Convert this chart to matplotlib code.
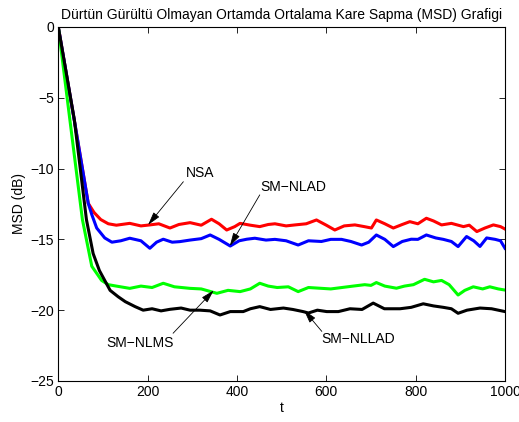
import numpy as np
import matplotlib
matplotlib.use('Agg')
import matplotlib.pyplot as plt

plt.rcParams['font.family'] = ['Liberation Sans', 'DejaVu Sans']

# values (t, MSD in dB)
t_nsa = [0, 37, 67, 80, 95, 112, 130, 160, 185, 205, 225, 250, 270, 295, 320, 343, 360, 377, 395, 407,
         430, 451, 470, 485, 510, 530, 555, 578, 600, 619, 640, 664, 685, 701, 712, 731, 750, 770, 787,
         805, 824, 840, 858, 880, 907, 920, 937, 955, 974, 990, 1000]
msd_nsa = [0, -6.8, -12.45, -13.1, -13.6, -13.9, -14.0, -13.87, -14.05, -13.98, -13.9, -14.2, -13.95,
           -13.82, -14.0, -13.58, -13.9, -14.34, -14.1, -13.87, -14.0, -14.1, -13.95, -13.9, -14.05,
           -13.98, -13.9, -13.63, -14.0, -14.34, -14.05, -13.98, -14.1, -14.2, -13.63, -13.9, -14.2,
           -13.95, -13.75, -13.9, -13.51, -13.7, -13.98, -13.87, -14.1, -14.0, -14.45, -14.2, -13.98,
           -14.1, -14.27]

t_nlad = [0, 37, 67, 75, 86, 104, 120, 140, 160, 185, 205, 220, 235, 255, 272, 295, 320, 340, 360, 385,
          405, 422, 440, 465, 485, 510, 537, 560, 589, 610, 634, 655, 679, 695, 712, 731, 750, 770, 790,
          805, 824, 845, 862, 880, 895, 914, 930, 944, 959, 978, 990, 1000]
msd_nlad = [0, -6.8, -12.45, -13.25, -14.2, -14.9, -15.2, -15.1, -14.92, -15.1, -15.63, -15.2, -14.99,
            -15.2, -15.16, -15.05, -14.95, -14.69, -15.0, -15.47, -15.1, -14.99, -14.92, -15.05, -15.0,
            -15.1, -15.4, -15.1, -15.15, -15.0, -15.0, -15.15, -15.4, -15.2, -14.69, -15.0, -15.51,
            -15.15, -14.99, -15.0, -14.69, -14.9, -15.0, -15.15, -15.51, -14.8, -15.1, -15.5, -14.9,
            -15.0, -15.1, -15.63]

t_nlms = [0, 26, 54, 75, 97, 112, 130, 160, 185, 210, 235, 260, 295, 320, 355, 380, 407, 430, 451, 470,
          490, 515, 537, 560, 585, 610, 635, 660, 686, 700, 712, 731, 757, 775, 795, 820, 840, 858, 875,
          895, 910, 929, 950, 966, 985, 1000]
msd_nlms = [0, -6.57, -13.6, -16.9, -17.9, -18.2, -18.3, -18.46, -18.3, -18.4, -18.1, -18.35, -18.46,
            -18.5, -18.81, -18.6, -18.69, -18.5, -18.1, -18.3, -18.4, -18.35, -18.69, -18.4, -18.45,
            -18.5, -18.4, -18.3, -18.2, -18.25, -18.05, -18.3, -18.45, -18.3, -18.2, -17.82, -18.0,
            -17.9, -18.2, -18.93, -18.6, -18.35, -18.5, -18.35, -18.5, -18.58]

t_nllad = [0, 36, 63, 78, 92, 104, 116, 134, 150, 172, 190, 210, 230, 250, 275, 295, 317, 340, 362, 385,
           414, 430, 451, 475, 504, 525, 548, 560, 580, 601, 627, 653, 680, 705, 730, 765, 790, 817, 840,
           862, 880, 895, 915, 944, 970, 1000]
msd_nllad = [0, -6.57, -13.6, -16.0, -17.2, -17.9, -18.6, -19.05, -19.4, -19.75, -20.0, -19.9, -20.05,
             -19.94, -19.85, -20.0, -20.0, -20.05, -20.34, -20.1, -20.1, -19.9, -19.75, -19.95, -19.85,
             -19.95, -20.1, -20.2, -20.0, -20.1, -20.1, -19.9, -19.95, -19.5, -19.9, -19.9, -19.8,
             -19.55, -19.7, -19.8, -19.9, -20.22, -20.0, -19.85, -19.9, -20.1]

# annotations: label, text position, arrow tail, arrow tip
labels = ['NSA', 'SM\u2212NLAD', 'SM\u2212NLMS', 'SM\u2212NLLAD']
text_pos = [(317, -10.3), (527, -11.3), (183, -22.34), (672, -22.06)]
tail_pos = [(280, -10.93), (451, -11.86), (257, -21.63), (590, -21.5)]
tip_pos = [(201, -13.98), (384, -15.47), (348, -18.6), (550, -20.0)]

fig = plt.figure(figsize=(5.19, 4.22), dpi=100)
ax = fig.add_axes([0.1123, 0.0972, 0.8607, 0.839])

lw = 2.2
ax.plot(t_nsa, msd_nsa, color=(1, 0, 0), lw=lw)
ax.plot(t_nlad, msd_nlad, color=(0, 0, 1), lw=lw)
ax.plot(t_nlms, msd_nlms, color=(0, 1, 0), lw=lw)
ax.plot(t_nllad, msd_nllad, color='k', lw=lw)

for lab, tp, tl, tip in zip(labels, text_pos, tail_pos, tip_pos):
    ax.text(tp[0], tp[1], lab, ha='center', va='center', fontsize=10)
    ax.annotate('', xy=tip, xytext=tl,
                arrowprops=dict(arrowstyle='-|>,head_length=0.9,head_width=0.25',
                                color='k', lw=0.6, mutation_scale=9,
                                shrinkA=0, shrinkB=0))

ax.set_xlim(0, 1000)
ax.set_ylim(-25, 0)
ax.set_xticks([0, 200, 400, 600, 800, 1000])
ax.set_yticks([-25, -20, -15, -10, -5, 0])
ax.set_yticklabels(['\u221225', '\u221220', '\u221215', '\u221210', '\u22125', '0'])
ax.tick_params(direction='in', top=True, right=True, labelsize=10, length=4, width=0.6, pad=3)
for s in ax.spines.values():
    s.set_linewidth(0.8)

ax.set_xlabel('t', fontsize=10, labelpad=1)
ax.set_ylabel('MSD (dB)', fontsize=10, labelpad=3)
ax.set_title('D\u00fcrt\u00fcn G\u00fcr\u00fclt\u00fc Olmayan Ortamda Ortalama Kare Sapma (MSD) Grafigi',
             fontsize=10, pad=6)

fig.savefig('out.png', dpi=100)
